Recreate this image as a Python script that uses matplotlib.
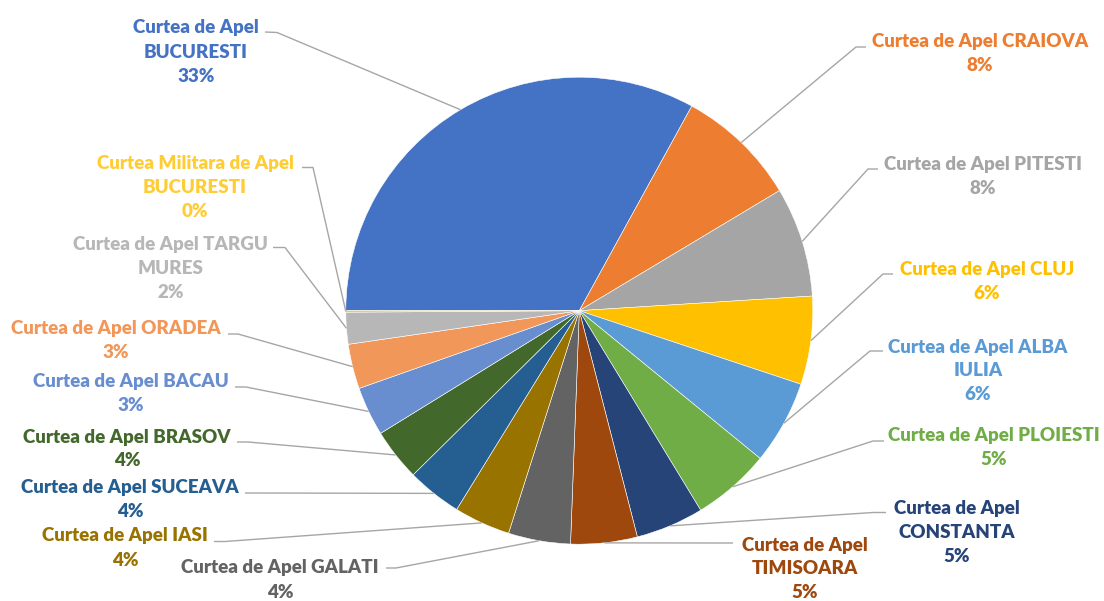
import numpy as np
import matplotlib
matplotlib.use("Agg")
import matplotlib.pyplot as plt

# courts and their share of cases (percent)
courts = [
    "Curtea de Apel BUCURESTI", "Curtea de Apel CRAIOVA", "Curtea de Apel PITESTI",
    "Curtea de Apel CLUJ", "Curtea de Apel ALBA IULIA", "Curtea de Apel PLOIESTI",
    "Curtea de Apel CONSTANTA", "Curtea de Apel TIMISOARA", "Curtea de Apel GALATI",
    "Curtea de Apel IASI", "Curtea de Apel SUCEAVA", "Curtea de Apel BRASOV",
    "Curtea de Apel BACAU", "Curtea de Apel ORADEA", "Curtea de Apel TARGU MURES",
    "Curtea Militara de Apel BUCURESTI",
]
shares = [33.0, 8.4, 7.6, 6.1, 5.8, 5.4, 4.7, 4.6, 4.3, 3.9, 3.8, 3.6, 3.4, 3.1, 2.2, 0.1]

# how each label is wrapped in the chart
wrapped = [
    "Curtea de Apel\nBUCURESTI", "Curtea de Apel CRAIOVA", "Curtea de Apel PITESTI",
    "Curtea de Apel CLUJ", "Curtea de Apel ALBA\nIULIA", "Curtea de Apel PLOIESTI",
    "Curtea de Apel\nCONSTANTA", "Curtea de Apel\nTIMISOARA", "Curtea de Apel GALATI",
    "Curtea de Apel IASI", "Curtea de Apel SUCEAVA", "Curtea de Apel BRASOV",
    "Curtea de Apel BACAU", "Curtea de Apel ORADEA", "Curtea de Apel TARGU\nMURES",
    "Curtea Militara de Apel\nBUCURESTI",
]

colors = ["#4472C4", "#ED7D31", "#A5A5A5", "#FFC000", "#5B9BD5", "#70AD47",
          "#264478", "#9E480E", "#636363", "#997300", "#255E91", "#43682B",
          "#698ED0", "#F1975A", "#B7B7B7", "#FFC000"]
text_colors = list(colors)
text_colors[-1] = "#FFCD33"

W, H = 1104, 601
# label layout in pixels: text center, line start at text, elbow
label_pos = [(196, 52), (980, 53.5), (983, 176.5), (987, 281.5), (978, 371),
             (994, 447.5), (957, 532.5), (805, 569), (280, 580), (125, 548),
             (130, 499.5), (127, 449), (131, 393.5), (116, 340.5), (170.5, 268.5),
             (195, 187.5)]
leader_start = [(265, 32), (866, 47), (878, 169), (893, 274), (883, 351),
                (884, 441), (886, 512.5), (733, 543), (386, 568), (214, 541.5),
                (245, 493), (237, 442), (235, 387), (228, 334), (273, 247.5),
                (302, 167.5)]
leader_elbow = [(277, 32.5), (856, 47), (868, 169), (883, 274), (870, 351),
                (873, 441), (873, 512.5), (722, 543), (396, 568), (225, 541.5),
                (256, 493), (248, 442), (246, 387), (238, 334), (285, 247.5),
                (313, 167.5)]

fig = plt.figure(figsize=(W / 100, H / 100), dpi=100)
ax = fig.add_axes([0, 0, 1, 1])

cx, cy, r = 579.3, H - 310.7, 233.5
wedges, _ = ax.pie(shares, colors=colors, startangle=180, counterclock=False,
                   center=(cx, cy), radius=r,
                   wedgeprops=dict(edgecolor="white", linewidth=0.4))

ax.set_xlim(0, W)
ax.set_ylim(0, H)
ax.set_aspect("equal")
ax.axis("off")

total = sum(shares)
for i, w in enumerate(wedges):
    pct = round(shares[i] / total * 100)
    tx, ty = label_pos[i]
    ax.text(tx, H - ty, f"{wrapped[i]}\n{pct}%", ha="center", va="center",
            fontsize=13.5, fontweight="heavy", family="Lato",
            color=text_colors[i], linespacing=1.5)
    # leader: short horizontal at the label, then to the slice's mid-angle on the rim
    mid = np.deg2rad((w.theta1 + w.theta2) / 2)
    ax_, ay_ = cx + r * np.cos(mid), cy + r * np.sin(mid)
    sx, sy = leader_start[i]
    ex, ey = leader_elbow[i]
    ax.plot([sx, ex, ax_], [H - sy, H - ey, ay_], color="#A6A6A6", lw=1.0,
            solid_capstyle="butt")

fig.savefig("out.png", dpi=100)
